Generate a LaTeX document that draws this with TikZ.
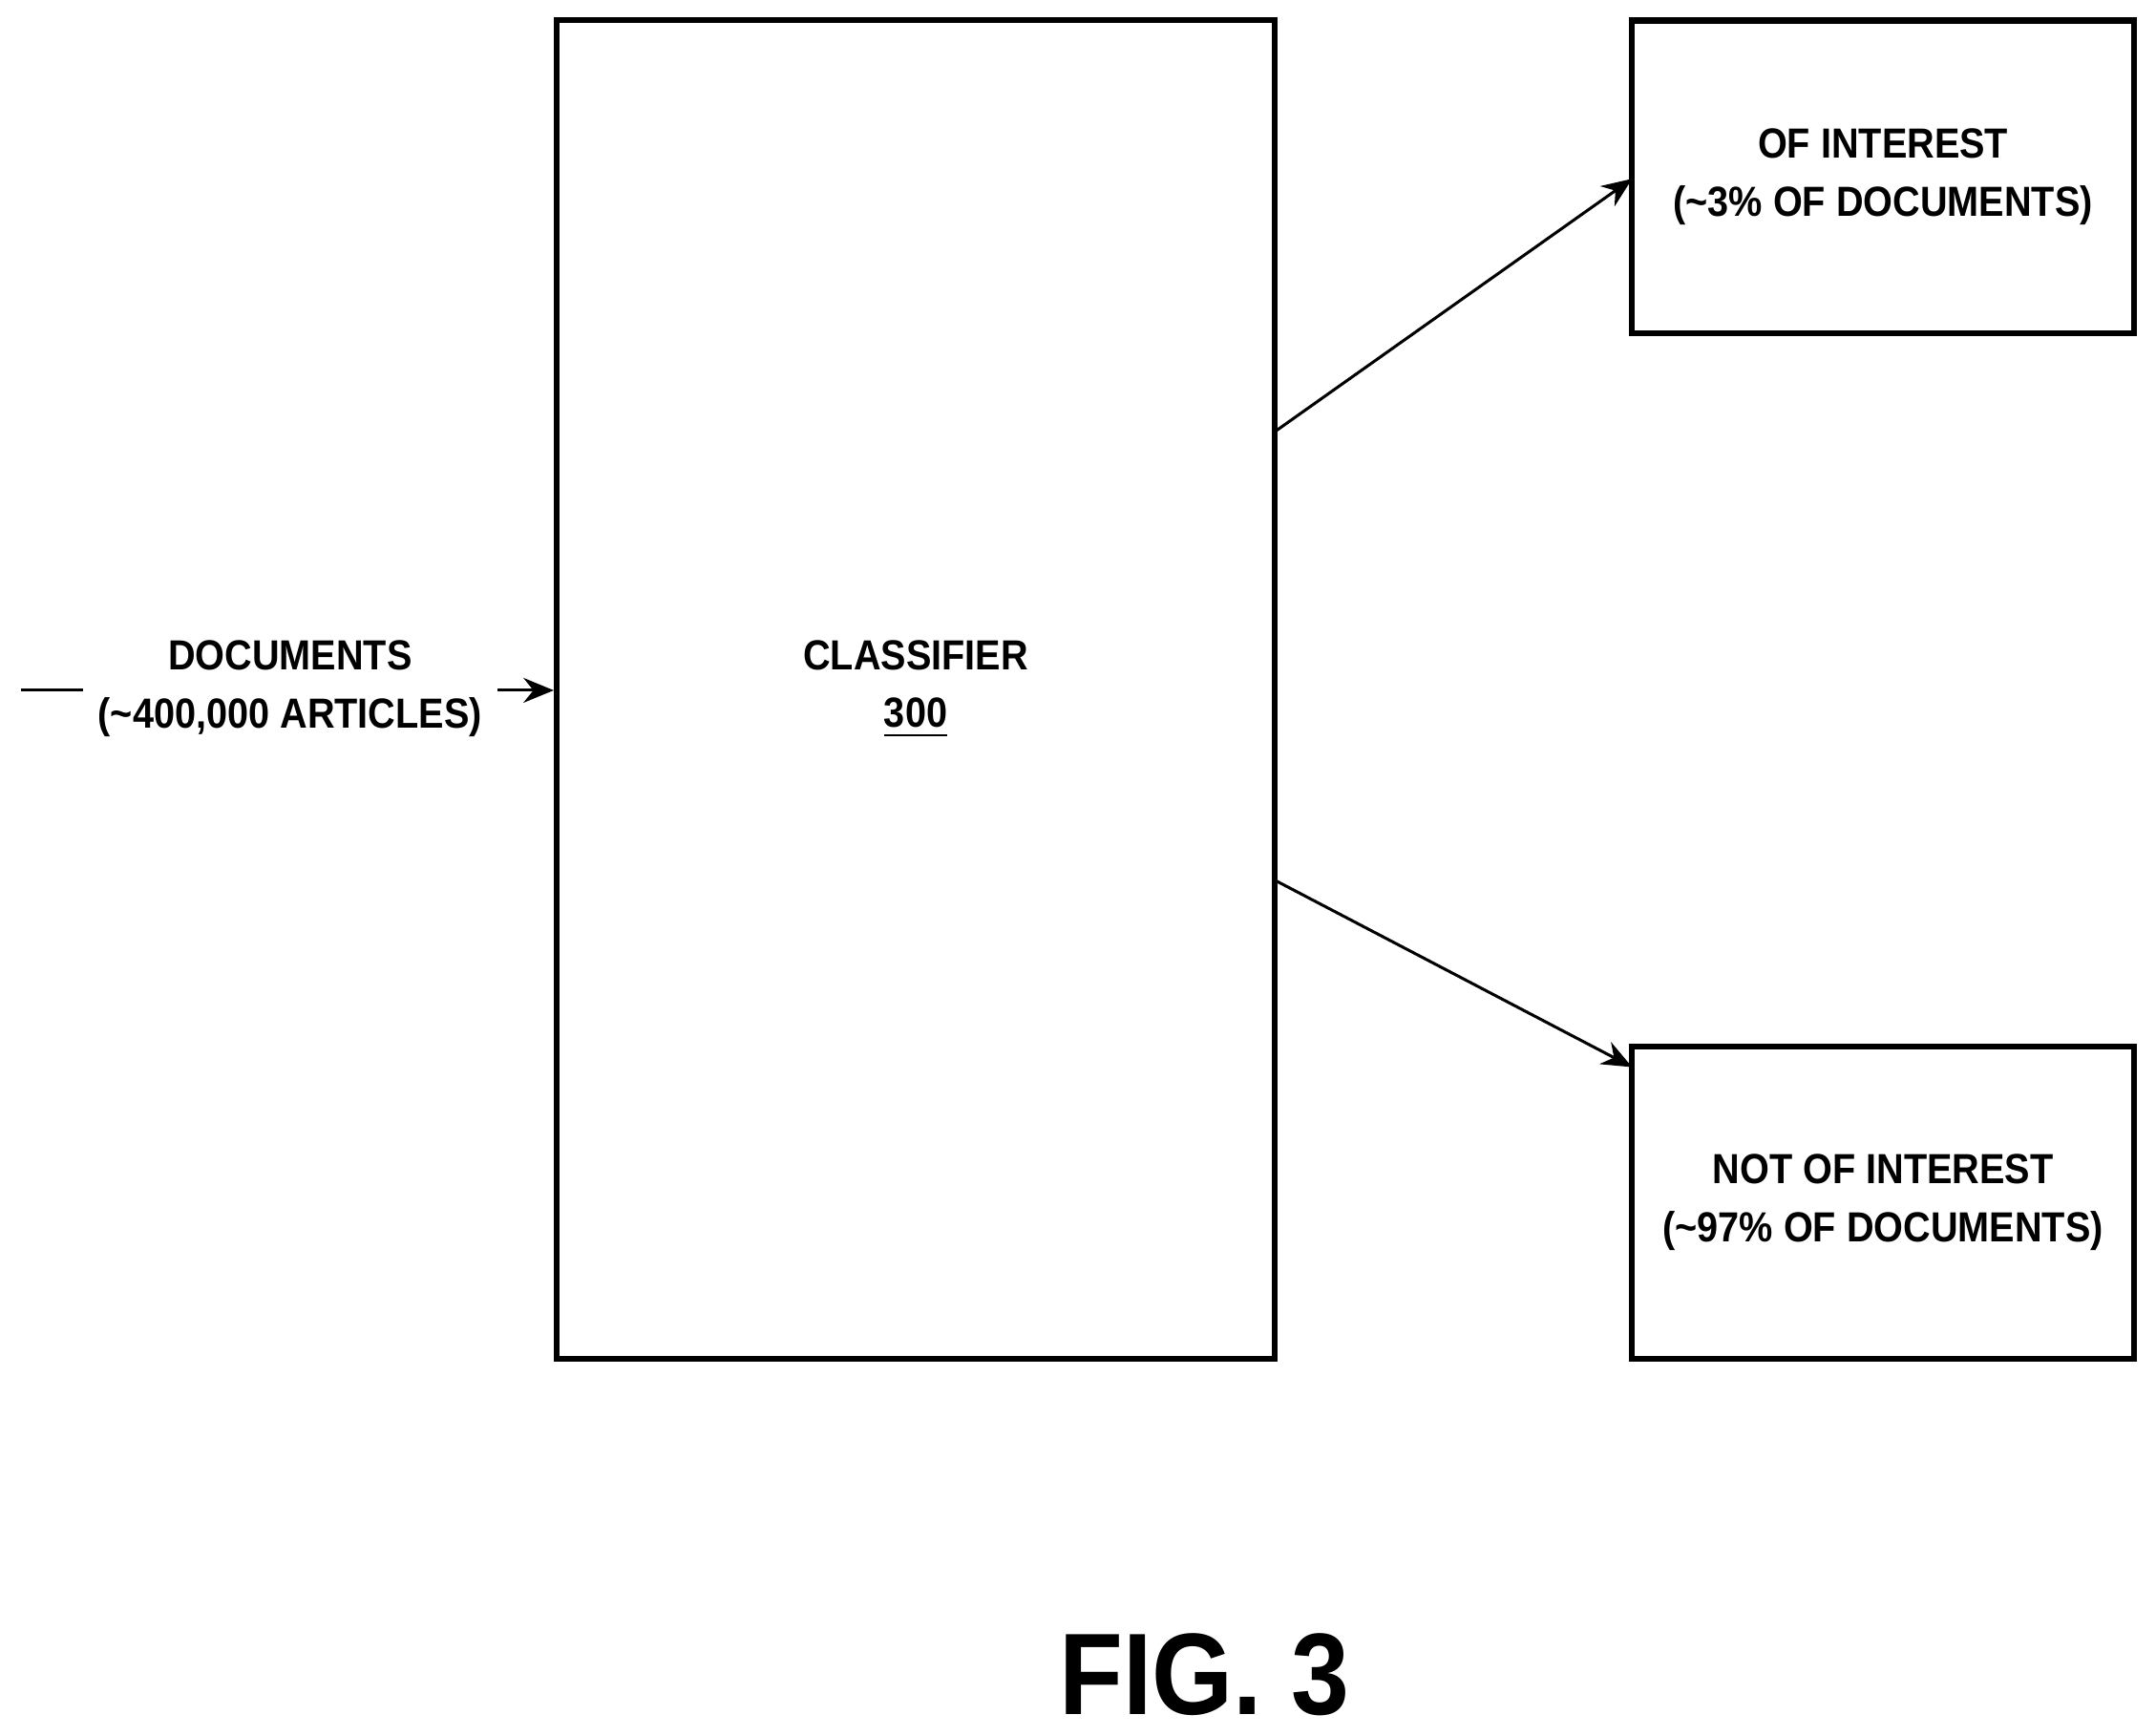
\documentclass[tikz,border=0pt]{standalone}
\usepackage{fontspec}
\setmainfont{Liberation Sans}[FakeStretch=0.9]
\usetikzlibrary{arrows.meta}
\tikzset{
  block/.style={draw=black,line width=1.2pt,inner sep=0pt},
  lbl/.style={font=\bfseries\fontsize{8.7}{12}\selectfont,align=center,inner sep=0pt},
  flow/.style={line width=0.6pt,-{Stealth[length=2.2mm,width=1.8mm]}}
}
\begin{document}
\begin{tikzpicture}[x=0.01cm,y=-0.01cm]
\useasboundingbox (0,0) rectangle (1568,1262);
\node[block,minimum width=5.22cm,minimum height=9.73cm] (classifier) at (666,501.5) {};
\node[lbl] (clsText) at (666,501) {CLASSIFIER\\\underline{300}};
\node[block,minimum width=3.65cm,minimum height=2.27cm] (interest) at (1369.5,128.5) {};
\node[lbl] at (interest) {OF INTEREST\\(\char`~3\% OF DOCUMENTS)};
\node[block,minimum width=3.65cm,minimum height=2.27cm] (notinterest) at (1369.5,874.5) {};
\node[lbl] at (notinterest) {NOT OF INTEREST\\(\char`~97\% OF DOCUMENTS)};
\node[lbl,inner xsep=3pt] (docs) at (211,501) {DOCUMENTS\\(\char`~400,000 ARTICLES)};
\coordinate (in) at (15,502);
\coordinate (topOut) at (927,314);
\coordinate (botOut) at (927,640);
\coordinate (topIn) at (1187,130);
\coordinate (botIn) at (1187,776);
\node[font=\bfseries\fontsize{24}{28}\selectfont,inner sep=0pt] (fig) at (876,1218) {FIG. 3};

\draw[line width=0.6pt] (in) -- (docs.west |- in);
\draw[flow] (docs.east |- in) -- (classifier.west |- in);
\draw[flow] (topOut) -- (topIn);
\draw[flow] (botOut) -- (botIn);
\end{tikzpicture}
\end{document}
